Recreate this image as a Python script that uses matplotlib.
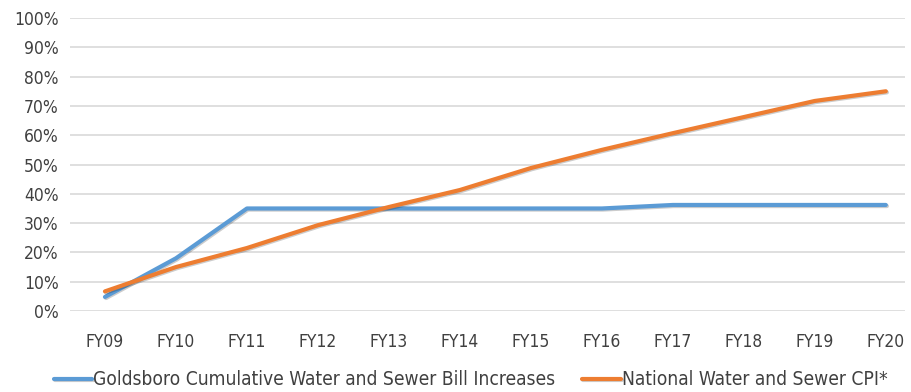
import matplotlib.pyplot as plt
import matplotlib.patheffects as pe
from matplotlib.ticker import PercentFormatter

years = ["FY09", "FY10", "FY11", "FY12", "FY13", "FY14",
         "FY15", "FY16", "FY17", "FY18", "FY19", "FY20"]
goldsboro = [0.048, 0.18, 0.35, 0.35, 0.35, 0.35, 0.35, 0.35, 0.362, 0.362, 0.362, 0.362]
cpi = [0.067, 0.15, 0.215, 0.293, 0.355, 0.413, 0.488, 0.55, 0.607, 0.662, 0.717, 0.75]

plt.rcParams['font.family'] = ['DejaVu Sans']
plt.rcParams['font.stretch'] = 'condensed'

fig = plt.figure(figsize=(9.11, 3.92), dpi=100)
ax = fig.add_axes([0.0768, 0.2066, 0.9166, 0.7474])

shadow = [pe.SimpleLineShadow(offset=(0.8, -0.8), alpha=0.2), pe.Normal()]
x = range(len(years))
ax.plot(x, goldsboro, color="#5b9bd5", lw=3.0, solid_capstyle="round",
        label="Goldsboro Cumulative Water and Sewer Bill Increases", path_effects=shadow)
ax.plot(x, cpi, color="#ed7d31", lw=3.0, solid_capstyle="round",
        label="National Water and Sewer CPI*", path_effects=shadow)

ax.set_xlim(-0.493, 11.27)
ax.set_ylim(0, 1.0)
ax.set_yticks([i / 10 for i in range(11)])
ax.yaxis.set_major_formatter(PercentFormatter(1.0, decimals=0))
ax.set_xticks(list(x))
ax.set_xticklabels(years)
ax.grid(axis="y", color="#d9d9d9", lw=1.2)
ax.set_axisbelow(True)
for s in ax.spines.values():
    s.set_visible(False)
ax.tick_params(length=0, labelsize=12.5, colors="#404040")
ax.tick_params(axis="x", pad=16)
ax.tick_params(axis="y", pad=8)

ax.legend(loc="center", bbox_to_anchor=(0.48, -0.235), ncol=2, frameon=False,
          fontsize=13.8, handlelength=2.0, handletextpad=0.05, columnspacing=1.4,
          labelcolor="#404040")

fig.savefig("out.png")
